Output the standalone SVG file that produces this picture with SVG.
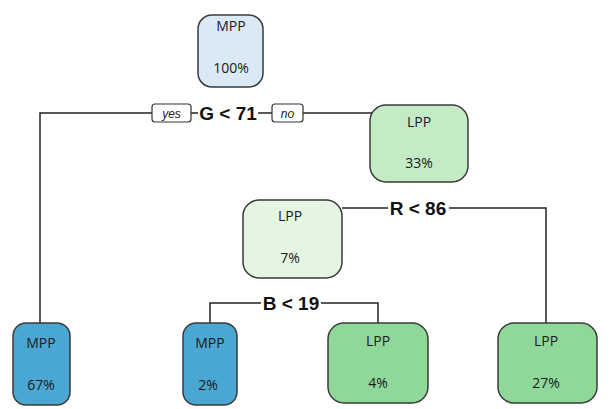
<svg xmlns="http://www.w3.org/2000/svg" width="610" height="409" viewBox="0 0 610 409">
<style>
.node{stroke:#3a3a3a;stroke-width:1.5}
.lbl{font-family:"Open Sans","Liberation Sans",sans-serif;font-size:14px;fill:#1a1a1a;text-anchor:middle}
.split{font-family:"Liberation Sans",Arial,sans-serif;font-size:19px;font-weight:bold;fill:#111;text-anchor:middle}
.yn{font-family:"Liberation Sans",Arial,sans-serif;font-size:12px;font-style:italic;fill:#222;text-anchor:middle}
.ynbox{fill:#fff;stroke:#333;stroke-width:1.2}
.edge{fill:none;stroke:#222;stroke-width:1.5}
</style>
<rect width="610" height="409" fill="#fff"/>
<g id="connectors">
<path class="edge" d="M152 113 H40 V323"/>
<path class="edge" d="M191 113 H198"/>
<path class="edge" d="M258 113 H272"/>
<path class="edge" d="M303 113 H372"/>
<path class="edge" d="M342 208 H388"/>
<path class="edge" d="M449 208 H546 V323"/>
<path class="edge" d="M210 323 V303 H261"/>
<path class="edge" d="M321 303 H378 V323"/>
<rect class="ynbox" x="152" y="104" width="39" height="18" rx="3"/>
<text class="yn" x="171.5" y="117.5">yes</text>
<text class="split" x="228" y="120">G &lt; 71</text>
<rect class="ynbox" x="272" y="104" width="31" height="18" rx="3"/>
<text class="yn" x="287.5" y="117.5">no</text>
<text class="split" x="418" y="215">R &lt; 86</text>
<text class="split" x="291" y="310">B &lt; 19</text>
</g>
<g id="n1">
<rect class="node" x="198" y="15" width="65" height="72" rx="14" fill="#dbe9f6"/>
<text class="lbl" x="231" y="31">MPP</text>
<text class="lbl" x="231" y="73">100%</text>
</g>
<g id="n3">
<rect class="node" x="370" y="105" width="98" height="77" rx="16" fill="#c4ebc6"/>
<text class="lbl" x="419" y="127">LPP</text>
<text class="lbl" x="419" y="168">33%</text>
</g>
<g id="n6">
<rect class="node" x="243" y="200" width="99" height="78" rx="16" fill="#e4f5e1"/>
<text class="lbl" x="290" y="221">LPP</text>
<text class="lbl" x="290" y="263">7%</text>
</g>
<g id="n2">
<rect class="node" x="13" y="323" width="57" height="82" rx="13" fill="#4aa7d3"/>
<text class="lbl" x="41" y="348">MPP</text>
<text class="lbl" x="41" y="390">67%</text>
</g>
<g id="n12">
<rect class="node" x="183" y="323" width="54" height="82" rx="13" fill="#4aa7d3"/>
<text class="lbl" x="210" y="348">MPP</text>
<text class="lbl" x="208" y="390">2%</text>
</g>
<g id="n13">
<rect class="node" x="328" y="323" width="100" height="80" rx="16" fill="#8fd89a"/>
<text class="lbl" x="378" y="346">LPP</text>
<text class="lbl" x="378" y="388">4%</text>
</g>
<g id="n7">
<rect class="node" x="498" y="323" width="99" height="80" rx="16" fill="#8fd89a"/>
<text class="lbl" x="546" y="346">LPP</text>
<text class="lbl" x="546" y="388">27%</text>
</g>
</svg>
